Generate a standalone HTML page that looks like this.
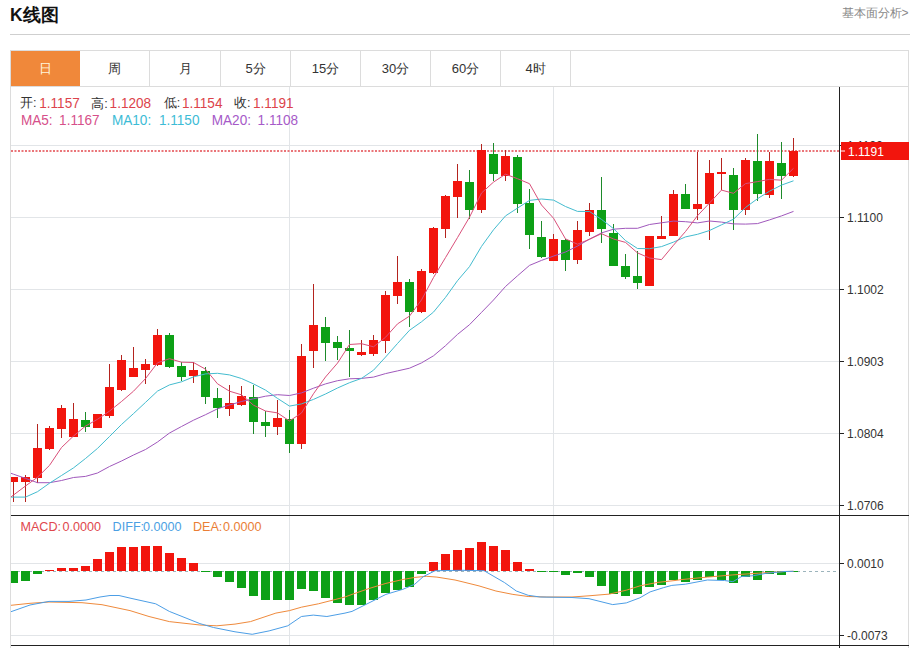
<!DOCTYPE html>
<html><head><meta charset="utf-8">
<style>
html,body{margin:0;padding:0;background:#fff;width:916px;height:648px;overflow:hidden;}
body{font-family:"Liberation Sans",sans-serif;position:relative;}
.abs{position:absolute;white-space:nowrap;}
#title{left:11px;top:3px;font-size:17px;font-weight:bold;color:#111;line-height:22px;}
#more{left:842px;top:5px;font-size:12px;color:#888;line-height:16px;}
#hline{left:10px;top:34px;width:900px;height:1px;background:#cfcfcf;}
#box{left:10px;top:50px;width:899px;height:620px;border:1px solid #dcdcdc;box-sizing:border-box;}
.tab{position:absolute;top:51px;height:35px;width:70px;text-align:center;line-height:35px;font-size:13px;color:#333;border-right:1px solid #dcdcdc;box-sizing:border-box;}
#tabline{left:11px;top:86px;width:898px;height:1px;background:#dcdcdc;}
#info1{left:20px;top:94px;font-size:13px;line-height:17px;color:#333;}
#info2{left:20px;top:112px;font-size:13px;line-height:17px;}
.r{color:#e5474b}
#macdinfo{left:21px;top:518px;font-size:12px;line-height:15px;}
svg{position:absolute;left:0;top:0;}
.ax{font-size:12px;fill:#333;}
</style></head><body>
<div class="abs" id="hline"></div>
<div class="abs" id="box"></div>
<div class="tab" style="left:11px;width:69px;background:#f0883a;color:#fff6dc;border-right:none;">日</div>
<div class="tab" style="left:80px;">周</div>
<div class="tab" style="left:151px;">月</div>
<div class="tab" style="left:221px;">5分</div>
<div class="tab" style="left:291px;">15分</div>
<div class="tab" style="left:361px;">30分</div>
<div class="tab" style="left:431px;">60分</div>
<div class="tab" style="left:501px;">4时</div>
<div class="abs" id="tabline"></div>
<svg width="916" height="648" viewBox="0 0 916 648" style="shape-rendering:crispEdges">
<g stroke="#e2e5e8" stroke-width="1">
<line x1="11" y1="145.5" x2="839" y2="145.5"/>
<line x1="11" y1="217.5" x2="839" y2="217.5"/>
<line x1="11" y1="289.5" x2="839" y2="289.5"/>
<line x1="11" y1="361.5" x2="839" y2="361.5"/>
<line x1="11" y1="433.5" x2="839" y2="433.5"/>
<line x1="11" y1="505.5" x2="839" y2="505.5"/>
<line x1="289.5" y1="87" x2="289.5" y2="515"/>
<line x1="553.5" y1="87" x2="553.5" y2="515"/>
<line x1="11" y1="563.5" x2="839" y2="563.5"/>
<line x1="11" y1="635.5" x2="839" y2="635.5"/>
<line x1="289.5" y1="516" x2="289.5" y2="645"/>
<line x1="553.5" y1="516" x2="553.5" y2="645"/>
</g>
</svg>
<svg width="916" height="648" viewBox="0 0 916 648">
<defs><clipPath id="cp"><rect x="11" y="87" width="828" height="428"/></clipPath>
<clipPath id="cp2"><rect x="11" y="516" width="828" height="130"/></clipPath></defs>
<g clip-path="url(#cp)">
<line x1="11" y1="151" x2="839" y2="151" stroke="#e4484e" stroke-width="1.3" stroke-dasharray="2 1.5"/>
<g style="shape-rendering:crispEdges">
<rect x="13" y="476.5" width="1" height="25.5" fill="#b4231e"/>
<rect x="9" y="476.5" width="9" height="5.1" fill="#f2150d"/>
<rect x="25" y="474.8" width="1" height="27.2" fill="#b4231e"/>
<rect x="21" y="476.5" width="9" height="5.1" fill="#f2150d"/>
<rect x="37" y="424.2" width="1" height="59.1" fill="#b4231e"/>
<rect x="33" y="448" width="9" height="30.2" fill="#f2150d"/>
<rect x="49" y="426.4" width="1" height="23.3" fill="#b4231e"/>
<rect x="45" y="428.4" width="9" height="20.1" fill="#f2150d"/>
<rect x="61" y="405.2" width="1" height="33.1" fill="#b4231e"/>
<rect x="57" y="408.1" width="9" height="20.9" fill="#f2150d"/>
<rect x="73" y="403.1" width="1" height="34.3" fill="#b4231e"/>
<rect x="69" y="419.1" width="9" height="18.3" fill="#f2150d"/>
<rect x="85" y="412" width="1" height="19.5" fill="#1d8a2a"/>
<rect x="81" y="419.6" width="9" height="7.3" fill="#0da016"/>
<rect x="97" y="414.2" width="1" height="13.9" fill="#b4231e"/>
<rect x="93" y="414.2" width="9" height="13.9" fill="#f2150d"/>
<rect x="109" y="363.7" width="1" height="54" fill="#b4231e"/>
<rect x="105" y="387.1" width="9" height="28.6" fill="#f2150d"/>
<rect x="121" y="355.2" width="1" height="36.1" fill="#b4231e"/>
<rect x="117" y="360.1" width="9" height="30.1" fill="#f2150d"/>
<rect x="133" y="347" width="1" height="30.1" fill="#b4231e"/>
<rect x="129" y="367.8" width="9" height="9.3" fill="#f2150d"/>
<rect x="145" y="359.4" width="1" height="24.2" fill="#b4231e"/>
<rect x="141" y="364" width="9" height="5.7" fill="#f2150d"/>
<rect x="157" y="328.5" width="1" height="37.8" fill="#b4231e"/>
<rect x="153" y="335" width="9" height="30" fill="#f2150d"/>
<rect x="169" y="333" width="1" height="34.5" fill="#1d8a2a"/>
<rect x="165" y="335.4" width="9" height="31.2" fill="#0da016"/>
<rect x="181" y="362" width="1" height="19" fill="#1d8a2a"/>
<rect x="177" y="366" width="9" height="11.4" fill="#0da016"/>
<rect x="193" y="362" width="1" height="20.5" fill="#b4231e"/>
<rect x="189" y="369.7" width="9" height="6.2" fill="#f2150d"/>
<rect x="205" y="366.5" width="1" height="37.4" fill="#1d8a2a"/>
<rect x="201" y="370.6" width="9" height="26.8" fill="#0da016"/>
<rect x="217" y="388.1" width="1" height="29.4" fill="#1d8a2a"/>
<rect x="213" y="398.3" width="9" height="9.7" fill="#0da016"/>
<rect x="229" y="385.2" width="1" height="30.6" fill="#b4231e"/>
<rect x="225" y="403.4" width="9" height="5.9" fill="#f2150d"/>
<rect x="241" y="386.4" width="1" height="19.5" fill="#b4231e"/>
<rect x="237" y="395.7" width="9" height="9" fill="#f2150d"/>
<rect x="253" y="385.2" width="1" height="48.8" fill="#1d8a2a"/>
<rect x="249" y="396.9" width="9" height="24.8" fill="#0da016"/>
<rect x="265" y="410.7" width="1" height="26.6" fill="#1d8a2a"/>
<rect x="261" y="422" width="9" height="4" fill="#0da016"/>
<rect x="277" y="400" width="1" height="34.5" fill="#b4231e"/>
<rect x="273" y="417.8" width="9" height="9.4" fill="#f2150d"/>
<rect x="289" y="410.2" width="1" height="42.9" fill="#1d8a2a"/>
<rect x="285" y="418.7" width="9" height="24.9" fill="#0da016"/>
<rect x="301" y="344.2" width="1" height="105" fill="#b4231e"/>
<rect x="297" y="355.9" width="9" height="87.7" fill="#f2150d"/>
<rect x="313" y="284.2" width="1" height="84.1" fill="#b4231e"/>
<rect x="309" y="325" width="9" height="26.3" fill="#f2150d"/>
<rect x="325" y="317.4" width="1" height="43.2" fill="#1d8a2a"/>
<rect x="321" y="327.2" width="9" height="15.3" fill="#0da016"/>
<rect x="337" y="336.4" width="1" height="23.1" fill="#1d8a2a"/>
<rect x="333" y="342.3" width="9" height="6.1" fill="#0da016"/>
<rect x="349" y="330.1" width="1" height="47" fill="#1d8a2a"/>
<rect x="345" y="347.9" width="9" height="2.6" fill="#0da016"/>
<rect x="361" y="340.3" width="1" height="16.1" fill="#b4231e"/>
<rect x="357" y="352.2" width="9" height="3" fill="#f2150d"/>
<rect x="373" y="334.7" width="1" height="21.2" fill="#b4231e"/>
<rect x="369" y="340.3" width="9" height="13.2" fill="#f2150d"/>
<rect x="385" y="290.5" width="1" height="62.5" fill="#b4231e"/>
<rect x="381" y="295" width="9" height="45.8" fill="#f2150d"/>
<rect x="397" y="256" width="1" height="47.5" fill="#b4231e"/>
<rect x="393" y="281.5" width="9" height="14.9" fill="#f2150d"/>
<rect x="409" y="279.1" width="1" height="47.9" fill="#1d8a2a"/>
<rect x="405" y="282" width="9" height="29.7" fill="#0da016"/>
<rect x="421" y="269.2" width="1" height="43.8" fill="#b4231e"/>
<rect x="417" y="271" width="9" height="40.7" fill="#f2150d"/>
<rect x="433" y="226.8" width="1" height="47.2" fill="#b4231e"/>
<rect x="429" y="228.1" width="9" height="44.5" fill="#f2150d"/>
<rect x="445" y="195.3" width="1" height="42.4" fill="#b4231e"/>
<rect x="441" y="195.8" width="9" height="33.4" fill="#f2150d"/>
<rect x="457" y="163.5" width="1" height="54.7" fill="#b4231e"/>
<rect x="453" y="181.2" width="9" height="15.3" fill="#f2150d"/>
<rect x="469" y="169.8" width="1" height="48.7" fill="#1d8a2a"/>
<rect x="465" y="181.7" width="9" height="28" fill="#0da016"/>
<rect x="481" y="143.8" width="1" height="69.6" fill="#b4231e"/>
<rect x="477" y="150" width="9" height="59.7" fill="#f2150d"/>
<rect x="493" y="142.6" width="1" height="38.2" fill="#1d8a2a"/>
<rect x="489" y="154" width="9" height="19.7" fill="#0da016"/>
<rect x="505" y="150.3" width="1" height="30.5" fill="#b4231e"/>
<rect x="501" y="156.2" width="9" height="19.5" fill="#f2150d"/>
<rect x="517" y="155.4" width="1" height="58" fill="#1d8a2a"/>
<rect x="513" y="157" width="9" height="46.8" fill="#0da016"/>
<rect x="529" y="188.5" width="1" height="60.8" fill="#1d8a2a"/>
<rect x="525" y="203.3" width="9" height="31.4" fill="#0da016"/>
<rect x="541" y="220.7" width="1" height="37.4" fill="#1d8a2a"/>
<rect x="537" y="236.9" width="9" height="19.8" fill="#0da016"/>
<rect x="553" y="234" width="1" height="27.2" fill="#b4231e"/>
<rect x="549" y="239.4" width="9" height="21.8" fill="#f2150d"/>
<rect x="565" y="239.4" width="1" height="31.4" fill="#1d8a2a"/>
<rect x="561" y="239.8" width="9" height="20" fill="#0da016"/>
<rect x="577" y="221.1" width="1" height="42.4" fill="#b4231e"/>
<rect x="573" y="230.4" width="9" height="29.7" fill="#f2150d"/>
<rect x="589" y="202.9" width="1" height="32.8" fill="#b4231e"/>
<rect x="585" y="210.2" width="9" height="21.6" fill="#f2150d"/>
<rect x="601" y="177.1" width="1" height="65.5" fill="#1d8a2a"/>
<rect x="597" y="210" width="9" height="18.7" fill="#0da016"/>
<rect x="613" y="223.9" width="1" height="41.8" fill="#1d8a2a"/>
<rect x="609" y="232.6" width="9" height="33.1" fill="#0da016"/>
<rect x="625" y="254.3" width="1" height="24.5" fill="#1d8a2a"/>
<rect x="621" y="265.7" width="9" height="11.3" fill="#0da016"/>
<rect x="637" y="250.5" width="1" height="38.2" fill="#1d8a2a"/>
<rect x="633" y="276.4" width="9" height="6.3" fill="#0da016"/>
<rect x="649" y="236" width="1" height="49.6" fill="#b4231e"/>
<rect x="645" y="236" width="9" height="49.6" fill="#f2150d"/>
<rect x="661" y="216.2" width="1" height="22.9" fill="#b4231e"/>
<rect x="657" y="236.4" width="9" height="2.7" fill="#f2150d"/>
<rect x="673" y="190.1" width="1" height="45.4" fill="#b4231e"/>
<rect x="669" y="193.7" width="9" height="41.8" fill="#f2150d"/>
<rect x="685" y="183.8" width="1" height="25.5" fill="#1d8a2a"/>
<rect x="681" y="194.2" width="9" height="14.3" fill="#0da016"/>
<rect x="697" y="152.1" width="1" height="67.5" fill="#b4231e"/>
<rect x="693" y="204" width="9" height="4.5" fill="#f2150d"/>
<rect x="709" y="160.1" width="1" height="79.9" fill="#b4231e"/>
<rect x="705" y="172.5" width="9" height="31.8" fill="#f2150d"/>
<rect x="721" y="157.6" width="1" height="32.5" fill="#b4231e"/>
<rect x="717" y="171.7" width="9" height="2" fill="#f2150d"/>
<rect x="733" y="168.3" width="1" height="61.6" fill="#1d8a2a"/>
<rect x="729" y="174.7" width="9" height="35.2" fill="#0da016"/>
<rect x="745" y="158.1" width="1" height="56.5" fill="#b4231e"/>
<rect x="741" y="159.8" width="9" height="50.1" fill="#f2150d"/>
<rect x="757" y="134.3" width="1" height="67.1" fill="#1d8a2a"/>
<rect x="753" y="160.7" width="9" height="33.6" fill="#0da016"/>
<rect x="769" y="152.2" width="1" height="46.1" fill="#b4231e"/>
<rect x="765" y="161.2" width="9" height="33.8" fill="#f2150d"/>
<rect x="781" y="142.3" width="1" height="57.1" fill="#1d8a2a"/>
<rect x="777" y="162.9" width="9" height="12.7" fill="#0da016"/>
<rect x="793" y="137.7" width="1" height="39.6" fill="#b4231e"/>
<rect x="789" y="150.8" width="9" height="25.1" fill="#f2150d"/>
</g>
<polyline points="11,473.3 13.5,474.2 25.5,478.4 37.5,482.7 49.5,482.7 61.5,480.5 73.5,477.5 85.5,476.4 97.5,473 109.5,466.5 121.5,461 133.5,455 145.5,449.5 157.5,442 169.5,433 181.5,426.5 193.5,420.2 205.5,414.7 217.5,408.8 229.5,405 241.5,401.5 253.5,398.8 265.5,396.2 277.5,394.7 289.5,395.5 301.5,392.9 313.5,388.2 325.5,383.9 337.5,380.7 349.5,378.8 361.5,378.4 373.5,377.1 385.5,373.6 397.5,370.9 409.5,368.2 421.5,362.9 433.5,355.8 445.5,345.7 457.5,334.4 469.5,324.7 481.5,312.4 493.5,300 505.5,286.5 517.5,275.8 529.5,265.4 541.5,260.4 553.5,256.1 565.5,252 577.5,246.1 589.5,239.1 601.5,232.9 613.5,229.2 625.5,228.3 637.5,228.3 649.5,224.5 661.5,222.8 673.5,221.1 685.5,221.7 697.5,222.9 709.5,221 721.5,222.1 733.5,223.9 745.5,224.1 757.5,223.6 769.5,219.9 781.5,215.9 793.5,211.4" fill="none" stroke="#a058bc" stroke-width="1"/><polyline points="11,497.1 13.5,497.1 25.5,497.1 37.5,491.7 49.5,483.2 61.5,475.5 73.5,467.9 85.5,458.5 97.5,448.4 109.5,436.5 121.5,424.5 133.5,413.6 145.5,402.4 157.5,391.1 169.5,384.9 181.5,381.8 193.5,376.9 205.5,373.9 217.5,373.3 229.5,374.9 241.5,378.5 253.5,383.9 265.5,390.1 277.5,398.4 289.5,406.1 301.5,403.9 313.5,399.4 325.5,394 337.5,388 349.5,382.7 361.5,378.4 373.5,370.2 385.5,357.1 397.5,343.5 409.5,330.3 421.5,321.8 433.5,312.1 445.5,297.4 457.5,280.7 469.5,266.6 481.5,246.4 493.5,229.8 505.5,215.9 517.5,208.1 529.5,200.4 541.5,199 553.5,200.1 565.5,206.5 577.5,211.4 589.5,211.5 601.5,219.4 613.5,228.6 625.5,240.6 637.5,248.5 649.5,248.7 661.5,246.6 673.5,242.1 685.5,236.9 697.5,234.3 709.5,230.5 721.5,224.8 733.5,219.2 745.5,207.5 757.5,198.7 769.5,191.2 781.5,185.1 793.5,180.8" fill="none" stroke="#44bccf" stroke-width="1"/><polyline points="11,496.9 13.5,495 25.5,486 37.5,477.2 49.5,465.4 61.5,447.5 73.5,436 85.5,426.1 97.5,419.3 109.5,411.1 121.5,401.5 133.5,391.2 145.5,378.6 157.5,362.8 169.5,358.7 181.5,362.2 193.5,362.5 205.5,369.2 217.5,383.8 229.5,391.2 241.5,394.8 253.5,405.2 265.5,411 277.5,412.9 289.5,421 301.5,413 313.5,393.7 325.5,377 337.5,363.1 349.5,344.5 361.5,343.7 373.5,346.8 385.5,337.3 397.5,323.9 409.5,316.1 421.5,299.9 433.5,277.5 445.5,257.6 457.5,237.6 469.5,217.2 481.5,193 493.5,182.1 505.5,174.2 517.5,178.7 529.5,183.7 541.5,205 553.5,218.2 565.5,238.9 577.5,244.2 589.5,239.3 601.5,233.7 613.5,239 625.5,242.4 637.5,252.9 649.5,258 661.5,259.6 673.5,245.2 685.5,231.5 697.5,215.7 709.5,203 721.5,190.1 733.5,193.3 745.5,183.6 757.5,181.6 769.5,179.4 781.5,180.2 793.5,168.3" fill="none" stroke="#d9507a" stroke-width="1"/>
</g>
<g clip-path="url(#cp2)">
<line x1="11" y1="571.5" x2="839" y2="571.5" stroke="#9cb4bc" stroke-width="1" stroke-dasharray="3 3"/>
<g style="shape-rendering:crispEdges">
<rect x="9" y="571.3" width="9" height="11.7" fill="#0da016"/>
<rect x="21" y="571.3" width="9" height="9.2" fill="#0da016"/>
<rect x="33" y="571.3" width="9" height="3.1" fill="#0da016"/>
<rect x="45" y="570.1" width="9" height="1.2" fill="#f2150d"/>
<rect x="57" y="568.1" width="9" height="3.2" fill="#f2150d"/>
<rect x="69" y="568.3" width="9" height="3" fill="#f2150d"/>
<rect x="81" y="565.9" width="9" height="5.4" fill="#f2150d"/>
<rect x="93" y="559.1" width="9" height="12.2" fill="#f2150d"/>
<rect x="105" y="551.6" width="9" height="19.7" fill="#f2150d"/>
<rect x="117" y="546.9" width="9" height="24.4" fill="#f2150d"/>
<rect x="129" y="546.9" width="9" height="24.4" fill="#f2150d"/>
<rect x="141" y="545.5" width="9" height="25.8" fill="#f2150d"/>
<rect x="153" y="545.5" width="9" height="25.8" fill="#f2150d"/>
<rect x="165" y="552.8" width="9" height="18.5" fill="#f2150d"/>
<rect x="177" y="557.9" width="9" height="13.4" fill="#f2150d"/>
<rect x="189" y="563" width="9" height="8.3" fill="#f2150d"/>
<rect x="201" y="571.3" width="9" height="0.5" fill="#0da016"/>
<rect x="213" y="571.3" width="9" height="6.1" fill="#0da016"/>
<rect x="225" y="571.3" width="9" height="10.4" fill="#0da016"/>
<rect x="237" y="571.3" width="9" height="16.3" fill="#0da016"/>
<rect x="249" y="571.3" width="9" height="24.5" fill="#0da016"/>
<rect x="261" y="571.3" width="9" height="28.2" fill="#0da016"/>
<rect x="273" y="571.3" width="9" height="28.7" fill="#0da016"/>
<rect x="285" y="571.3" width="9" height="28.2" fill="#0da016"/>
<rect x="297" y="571.3" width="9" height="17.7" fill="#0da016"/>
<rect x="309" y="571.3" width="9" height="19.4" fill="#0da016"/>
<rect x="321" y="571.3" width="9" height="26.5" fill="#0da016"/>
<rect x="333" y="571.3" width="9" height="31.3" fill="#0da016"/>
<rect x="345" y="571.3" width="9" height="33.3" fill="#0da016"/>
<rect x="357" y="571.3" width="9" height="33.3" fill="#0da016"/>
<rect x="369" y="571.3" width="9" height="28.6" fill="#0da016"/>
<rect x="381" y="571.3" width="9" height="21.4" fill="#0da016"/>
<rect x="393" y="571.3" width="9" height="18.9" fill="#0da016"/>
<rect x="405" y="571.3" width="9" height="15.5" fill="#0da016"/>
<rect x="417" y="571.3" width="9" height="2.4" fill="#0da016"/>
<rect x="429" y="561.8" width="9" height="9.5" fill="#f2150d"/>
<rect x="441" y="553.7" width="9" height="17.6" fill="#f2150d"/>
<rect x="453" y="549.9" width="9" height="21.4" fill="#f2150d"/>
<rect x="465" y="548.2" width="9" height="23.1" fill="#f2150d"/>
<rect x="477" y="541.5" width="9" height="29.8" fill="#f2150d"/>
<rect x="489" y="546.4" width="9" height="24.9" fill="#f2150d"/>
<rect x="501" y="550.3" width="9" height="21" fill="#f2150d"/>
<rect x="513" y="561.8" width="9" height="9.5" fill="#f2150d"/>
<rect x="525" y="569" width="9" height="2.3" fill="#f2150d"/>
<rect x="537" y="571.3" width="9" height="1.1" fill="#0da016"/>
<rect x="549" y="571.3" width="9" height="0.7" fill="#0da016"/>
<rect x="561" y="571.3" width="9" height="3.6" fill="#0da016"/>
<rect x="573" y="571.3" width="9" height="1.4" fill="#0da016"/>
<rect x="585" y="571.3" width="9" height="5.3" fill="#0da016"/>
<rect x="597" y="571.3" width="9" height="14.3" fill="#0da016"/>
<rect x="609" y="571.3" width="9" height="23.1" fill="#0da016"/>
<rect x="621" y="571.3" width="9" height="24.8" fill="#0da016"/>
<rect x="633" y="571.3" width="9" height="22.8" fill="#0da016"/>
<rect x="645" y="571.3" width="9" height="15.5" fill="#0da016"/>
<rect x="657" y="571.3" width="9" height="13.8" fill="#0da016"/>
<rect x="669" y="571.3" width="9" height="9" fill="#0da016"/>
<rect x="681" y="571.3" width="9" height="10.4" fill="#0da016"/>
<rect x="693" y="571.3" width="9" height="8.7" fill="#0da016"/>
<rect x="705" y="571.3" width="9" height="5.3" fill="#0da016"/>
<rect x="717" y="571.3" width="9" height="8.2" fill="#0da016"/>
<rect x="729" y="571.3" width="9" height="11.2" fill="#0da016"/>
<rect x="741" y="571.3" width="9" height="5.2" fill="#0da016"/>
<rect x="753" y="571.3" width="9" height="8.2" fill="#0da016"/>
<rect x="765" y="571.3" width="9" height="3.1" fill="#0da016"/>
<rect x="777" y="571.3" width="9" height="3.2" fill="#0da016"/>
<rect x="789" y="571.3" width="9" height="0.7" fill="#0da016"/>
</g>
<polyline points="11,605.3 30,603.3 49,602 82,602.7 102,604.7 130,610.6 149,616.5 169.3,621.6 199.9,625 216.9,625.8 235,624.1 250.5,621.6 275.9,613.1 289.5,610.6 301.4,607.2 318.4,603.8 345,597 352,594.4 369,588.5 385.9,583.4 402.9,579.5 414.8,577.4 426.7,576.3 436.9,577.1 455,580 462,581.7 479,585.9 495.9,591 512.9,594.4 528.2,596.5 546.9,597 572,597 589,595.8 609.3,594.1 626.3,590.2 639.9,585.9 656.9,582.5 675,580.5 682,579.5 707.4,577.1 732.9,574.9 758.4,573.2 785,571.5 793.5,571.3" fill="none" stroke="#ef8a3c" stroke-width="1" stroke-linejoin="round"/><polyline points="11,611.7 30,605 49,601.4 69,601.4 86,600 100,597 110,595.5 119,595.5 130,598.1 155.7,603.8 169.3,611.4 199.9,623.6 213.5,627.5 235,631.8 252.2,634.3 269.1,630.9 287.8,625.8 301.4,616.5 313.3,615.1 326.9,616.5 345,613.1 352,611.4 369,602.9 385.9,594.4 402.9,589.3 414.8,584.2 423.3,576.6 435.2,570.7 462,570.3 484,570.7 504.4,582.5 516.3,591 528.2,595.3 540.1,597 572,597.5 589,598.7 612.7,604.6 626.3,602.9 639.9,597.8 650.1,591.9 663.7,587.6 671.8,585.4 685.4,584.2 707.4,580 724.4,580.5 732.9,581.7 741.4,576.6 753.3,575.7 766.9,573.2 785,571.5 793.5,571.3" fill="none" stroke="#4c9ee6" stroke-width="1" stroke-linejoin="round"/>
</g>
<g style="shape-rendering:crispEdges" stroke="#222">
<line x1="839.5" y1="87" x2="839.5" y2="648" stroke-width="1.3"/>
<line x1="11" y1="515.5" x2="909" y2="515.5" stroke-width="1.5"/>
<line x1="11" y1="645.5" x2="909" y2="645.5" stroke-width="1.5"/>
<line x1="839" y1="217.5" x2="844" y2="217.5"/>
<line x1="839" y1="289.5" x2="844" y2="289.5"/>
<line x1="839" y1="361.5" x2="844" y2="361.5"/>
<line x1="839" y1="433.5" x2="844" y2="433.5"/>
<line x1="839" y1="505.5" x2="844" y2="505.5"/>
<line x1="839" y1="145.5" x2="844" y2="145.5"/>
<line x1="839" y1="563.5" x2="844" y2="563.5"/>
<line x1="839" y1="635.5" x2="844" y2="635.5"/>
</g>
<g class="ax">
<text x="847" y="150">1.1199</text>
<text x="847" y="222">1.1100</text>
<text x="847" y="294">1.1002</text>
<text x="847" y="366">1.0903</text>
<text x="847" y="438">1.0804</text>
<text x="847" y="510">1.0706</text>
<text x="847" y="568">0.0010</text>
<text x="847" y="640">-0.0073</text>
</g>
<rect x="841" y="142" width="68" height="18" fill="#f2150d"/>
<line x1="841" y1="151" x2="845" y2="151" stroke="#fff" stroke-width="1"/>
<text x="848" y="156" class="ax" style="fill:#fff">1.1191</text>
</svg>
<div class="abs" style="left:20.1px;top:97.4px;font-size:12.6px;line-height:1;color:#333;font-weight:normal;transform-origin:0 0;">开:</div>
<div class="abs" style="left:39.2px;top:95.6px;font-size:13.6px;line-height:1;color:#dc434b;font-weight:normal;transform-origin:0 0;transform:scaleY(1.12)">1.1157</div>
<div class="abs" style="left:91.2px;top:98.4px;font-size:12.6px;line-height:1;color:#333;font-weight:normal;transform-origin:0 0;">高:</div>
<div class="abs" style="left:109.6px;top:95.6px;font-size:13.6px;line-height:1;color:#dc434b;font-weight:normal;transform-origin:0 0;transform:scaleY(1.12)">1.1208</div>
<div class="abs" style="left:163.8px;top:97.4px;font-size:12.6px;line-height:1;color:#333;font-weight:normal;transform-origin:0 0;">低:</div>
<div class="abs" style="left:181.9px;top:95.6px;font-size:13.6px;line-height:1;color:#dc434b;font-weight:normal;transform-origin:0 0;transform:scaleY(1.12)">1.1154</div>
<div class="abs" style="left:233.9px;top:97.4px;font-size:12.6px;line-height:1;color:#333;font-weight:normal;transform-origin:0 0;">收:</div>
<div class="abs" style="left:253.0px;top:95.6px;font-size:13.6px;line-height:1;color:#dc434b;font-weight:normal;transform-origin:0 0;transform:scaleY(1.12)">1.1191</div>
<div class="abs" style="left:20.9px;top:113.2px;font-size:13.6px;line-height:1;color:#d6508a;font-weight:normal;transform-origin:0 0;transform:scaleY(1.12)">MA5:</div>
<div class="abs" style="left:59.1px;top:113.2px;font-size:13.6px;line-height:1;color:#d6508a;font-weight:normal;transform-origin:0 0;transform:scaleY(1.12)">1.1167</div>
<div class="abs" style="left:111.9px;top:113.2px;font-size:13.6px;line-height:1;color:#3dbcd6;font-weight:normal;transform-origin:0 0;transform:scaleY(1.12)">MA10:</div>
<div class="abs" style="left:158.9px;top:113.2px;font-size:13.6px;line-height:1;color:#3dbcd6;font-weight:normal;transform-origin:0 0;transform:scaleY(1.12)">1.1150</div>
<div class="abs" style="left:211.7px;top:113.2px;font-size:13.6px;line-height:1;color:#a65ac8;font-weight:normal;transform-origin:0 0;transform:scaleY(1.12)">MA20:</div>
<div class="abs" style="left:257.6px;top:113.2px;font-size:13.6px;line-height:1;color:#a65ac8;font-weight:normal;transform-origin:0 0;transform:scaleY(1.12)">1.1108</div>
<div class="abs" style="left:20.4px;top:521.1px;font-size:12.6px;line-height:1;color:#e0474d;font-weight:normal;transform-origin:0 0;">MACD:</div>
<div class="abs" style="left:62.5px;top:521.1px;font-size:12.6px;line-height:1;color:#e0474d;font-weight:normal;transform-origin:0 0;">0.0000</div>
<div class="abs" style="left:112.6px;top:521.1px;font-size:12.6px;line-height:1;color:#4b9fe3;font-weight:normal;transform-origin:0 0;">DIFF:</div>
<div class="abs" style="left:143.1px;top:521.1px;font-size:12.6px;line-height:1;color:#4b9fe3;font-weight:normal;transform-origin:0 0;">0.0000</div>
<div class="abs" style="left:192.9px;top:521.1px;font-size:12.6px;line-height:1;color:#ea7e35;font-weight:normal;transform-origin:0 0;">DEA:</div>
<div class="abs" style="left:223.0px;top:521.1px;font-size:12.6px;line-height:1;color:#ea7e35;font-weight:normal;transform-origin:0 0;">0.0000</div>
<div class="abs" style="left:10.0px;top:7.0px;font-size:17.5px;line-height:1;color:#111;font-weight:bold;transform-origin:0 0;">K线图</div>
<div class="abs" style="left:841.5px;top:6.5px;font-size:12px;line-height:1;color:#888;font-weight:normal;transform-origin:0 0;">基本面分析&gt;</div>
</body></html>
